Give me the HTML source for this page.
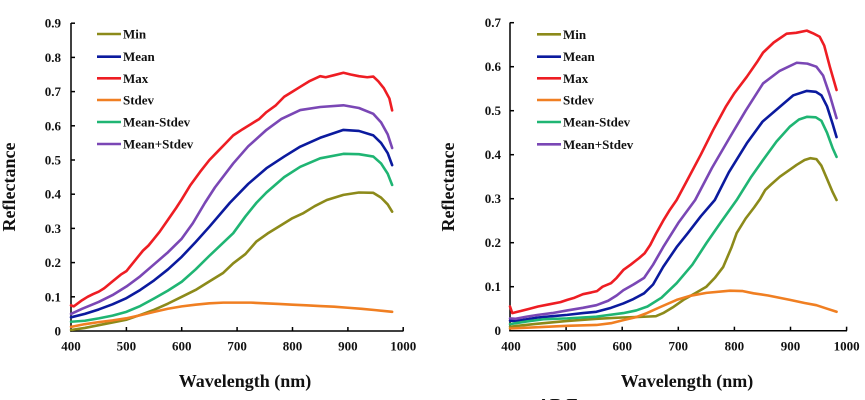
<!DOCTYPE html>
<html><head><meta charset="utf-8">
<style>
html,body{margin:0;padding:0;background:#fff;}
body{width:865px;height:400px;overflow:hidden;}
svg{display:block;}
text{font-family:"Liberation Serif","Times New Roman",serif;font-weight:bold;fill:#111;}
.t{font-size:13px;}
.lg{font-size:13px;}
.ax{font-size:18px;}
.s{fill:none;stroke-width:2.6;stroke-linejoin:round;stroke-linecap:round;}
</style></head>
<body>
<svg width="865" height="400" viewBox="0 0 865 400" xmlns="http://www.w3.org/2000/svg">
<!-- ===== LEFT CHART ===== -->
<g stroke="#000" stroke-width="1.5" fill="none">
  <line x1="71" y1="23" x2="71" y2="331.7"/>
  <line x1="70.3" y1="331" x2="403.5" y2="331"/>
  <!-- y ticks -->
  <line x1="71" y1="23.2" x2="75" y2="23.2"/>
  <line x1="71" y1="57.4" x2="75" y2="57.4"/>
  <line x1="71" y1="91.6" x2="75" y2="91.6"/>
  <line x1="71" y1="125.8" x2="75" y2="125.8"/>
  <line x1="71" y1="160" x2="75" y2="160"/>
  <line x1="71" y1="194.2" x2="75" y2="194.2"/>
  <line x1="71" y1="228.4" x2="75" y2="228.4"/>
  <line x1="71" y1="262.6" x2="75" y2="262.6"/>
  <line x1="71" y1="296.8" x2="75" y2="296.8"/>
  <!-- x ticks -->
  <line x1="126.4" y1="331" x2="126.4" y2="327"/>
  <line x1="181.7" y1="331" x2="181.7" y2="327"/>
  <line x1="237.1" y1="331" x2="237.1" y2="327"/>
  <line x1="292.5" y1="331" x2="292.5" y2="327"/>
  <line x1="347.9" y1="331" x2="347.9" y2="327"/>
  <line x1="403.2" y1="331" x2="403.2" y2="327"/>
</g>
<g class="t" text-anchor="end">
  <text x="61" y="27.7">0.9</text>
  <text x="61" y="61.9">0.8</text>
  <text x="61" y="96.1">0.7</text>
  <text x="61" y="130.3">0.6</text>
  <text x="61" y="164.5">0.5</text>
  <text x="61" y="198.7">0.4</text>
  <text x="61" y="232.9">0.3</text>
  <text x="61" y="267.1">0.2</text>
  <text x="61" y="301.3">0.1</text>
  <text x="61" y="335.5">0</text>
</g>
<g class="t" text-anchor="middle">
  <text x="71" y="350.5">400</text>
  <text x="126.4" y="350.5">500</text>
  <text x="181.7" y="350.5">600</text>
  <text x="237.1" y="350.5">700</text>
  <text x="292.5" y="350.5">800</text>
  <text x="347.9" y="350.5">900</text>
  <text x="403.2" y="350.5">1000</text>
</g>
<text class="ax" x="245" y="387" text-anchor="middle">Wavelength (nm)</text>
<text class="ax" transform="translate(15,187) rotate(-90)" text-anchor="middle">Reflectance</text>

<g transform="translate(-150.48,331) scale(0.5537,-342)">
  <polyline class="s" vector-effect="non-scaling-stroke" stroke="#8c8a1a" points="400,0.003 425,0.009 450,0.017 475,0.025 500,0.033 525,0.047 550,0.062 575,0.08 600,0.1 625,0.12 650,0.145 675,0.17 693,0.198 715,0.225 735,0.262 755,0.285 780,0.31 800,0.33 820,0.345 840,0.365 862,0.383 892,0.398 920,0.405 946,0.404 960,0.39 972,0.37 980,0.349"/>
  <polyline class="s" vector-effect="non-scaling-stroke" stroke="#0b1a9e" points="400,0.04 425,0.05 450,0.063 475,0.078 500,0.096 525,0.12 550,0.148 575,0.18 600,0.217 625,0.26 650,0.305 687,0.375 720,0.43 753,0.476 785,0.51 814,0.539 850,0.565 892,0.588 920,0.585 946,0.572 960,0.55 972,0.52 980,0.485"/>
  <polyline class="s" vector-effect="non-scaling-stroke" stroke="#ee1d23" points="400,0.075 405,0.072 410,0.078 420,0.09 430,0.1 440,0.108 450,0.115 460,0.125 475,0.145 490,0.165 500,0.175 510,0.195 520,0.215 530,0.235 540,0.25 550,0.27 560,0.29 575,0.325 590,0.36 600,0.385 615,0.425 633,0.465 650,0.5 665,0.525 680,0.55 693,0.572 710,0.59 725,0.605 740,0.62 753,0.64 770,0.66 785,0.685 800,0.7 814,0.714 830,0.73 850,0.745 860,0.742 875,0.748 892,0.755 905,0.75 920,0.745 935,0.742 946,0.744 955,0.73 965,0.71 975,0.68 980,0.645"/>
  <polyline class="s" vector-effect="non-scaling-stroke" stroke="#f07f22" points="400,0.012 425,0.02 450,0.026 475,0.031 500,0.037 525,0.046 550,0.056 575,0.065 600,0.072 625,0.077 650,0.081 675,0.083 700,0.083 725,0.083 750,0.081 775,0.079 800,0.077 825,0.075 850,0.073 875,0.071 900,0.068 925,0.065 950,0.061 980,0.056"/>
  <polyline class="s" vector-effect="non-scaling-stroke" stroke="#1fb573" points="400,0.027 425,0.03 450,0.037 475,0.045 500,0.056 525,0.073 550,0.095 575,0.118 600,0.144 625,0.18 650,0.22 693,0.286 715,0.335 735,0.375 753,0.405 785,0.45 814,0.48 850,0.505 892,0.518 920,0.517 946,0.51 960,0.49 972,0.46 980,0.427"/>
  <polyline class="s" vector-effect="non-scaling-stroke" stroke="#7a47b5" points="400,0.05 420,0.065 450,0.085 475,0.105 500,0.13 525,0.16 550,0.195 575,0.23 600,0.27 620,0.315 642,0.375 660,0.42 693,0.49 720,0.54 753,0.588 780,0.62 814,0.646 850,0.655 892,0.66 920,0.652 946,0.635 960,0.61 972,0.575 980,0.535"/>
</g>

<!-- left legend -->
<g stroke-width="2.6">
  <line x1="97" y1="34" x2="121" y2="34" stroke="#8c8a1a"/>
  <line x1="97" y1="56.7" x2="121" y2="56.7" stroke="#0b1a9e"/>
  <line x1="97" y1="78.3" x2="121" y2="78.3" stroke="#ee1d23"/>
  <line x1="97" y1="100" x2="121" y2="100" stroke="#f07f22"/>
  <line x1="97" y1="122" x2="121" y2="122" stroke="#1fb573"/>
  <line x1="97" y1="144" x2="121" y2="144" stroke="#7a47b5"/>
</g>
<g class="lg">
  <text x="123" y="38.5">Min</text>
  <text x="123" y="61.2">Mean</text>
  <text x="123" y="82.8">Max</text>
  <text x="123" y="104.5">Stdev</text>
  <text x="123" y="126.5">Mean-Stdev</text>
  <text x="123" y="148.5">Mean+Stdev</text>
</g>

<!-- ===== RIGHT CHART ===== -->
<g stroke="#000" stroke-width="1.5" fill="none">
  <line x1="510" y1="22.5" x2="510" y2="331.4"/>
  <line x1="509.3" y1="330.7" x2="847" y2="330.7"/>
  <line x1="510" y1="22.7" x2="514" y2="22.7"/>
  <line x1="510" y1="66.7" x2="514" y2="66.7"/>
  <line x1="510" y1="110.7" x2="514" y2="110.7"/>
  <line x1="510" y1="154.7" x2="514" y2="154.7"/>
  <line x1="510" y1="198.7" x2="514" y2="198.7"/>
  <line x1="510" y1="242.7" x2="514" y2="242.7"/>
  <line x1="510" y1="286.7" x2="514" y2="286.7"/>
  <line x1="566.1" y1="330.7" x2="566.1" y2="326.7"/>
  <line x1="622.2" y1="330.7" x2="622.2" y2="326.7"/>
  <line x1="678.3" y1="330.7" x2="678.3" y2="326.7"/>
  <line x1="734.4" y1="330.7" x2="734.4" y2="326.7"/>
  <line x1="790.5" y1="330.7" x2="790.5" y2="326.7"/>
  <line x1="846.6" y1="330.7" x2="846.6" y2="326.7"/>
</g>
<g class="t" text-anchor="end">
  <text x="501" y="27.2">0.7</text>
  <text x="501" y="71.2">0.6</text>
  <text x="501" y="115.2">0.5</text>
  <text x="501" y="159.2">0.4</text>
  <text x="501" y="203.2">0.3</text>
  <text x="501" y="247.2">0.2</text>
  <text x="501" y="291.2">0.1</text>
  <text x="501" y="335.2">0</text>
</g>
<g class="t" text-anchor="middle">
  <text x="511" y="350.5">400</text>
  <text x="566.6" y="350.5">500</text>
  <text x="622.2" y="350.5">600</text>
  <text x="678.3" y="350.5">700</text>
  <text x="734.4" y="350.5">800</text>
  <text x="790.5" y="350.5">900</text>
  <text x="846.6" y="350.5">1000</text>
</g>
<text class="ax" x="687" y="387" text-anchor="middle">Wavelength (nm)</text>
<text class="ax" transform="translate(454,187) rotate(-90)" text-anchor="middle">Reflectance</text>
<text class="ax" x="537" y="411">AB Eu</text>

<g transform="translate(285.56,330.7) scale(0.5611,-440)">
  <polyline class="s" vector-effect="non-scaling-stroke" stroke="#8c8a1a" points="400,0.009 420,0.012 450,0.016 500,0.022 554,0.027 600,0.03 644,0.032 660,0.033 673,0.04 690,0.053 709,0.07 730,0.085 750,0.1 765,0.12 780,0.145 795,0.19 804,0.222 820,0.255 835,0.28 846,0.3 855,0.32 865,0.332 881,0.35 900,0.367 911,0.377 925,0.388 935,0.392 946,0.39 955,0.375 965,0.345 975,0.315 982,0.297"/>
  <polyline class="s" vector-effect="non-scaling-stroke" stroke="#0b1a9e" points="400,0.023 410,0.022 430,0.026 450,0.03 475,0.033 502,0.036 530,0.04 554,0.043 580,0.052 602,0.062 620,0.072 639,0.085 655,0.105 673,0.145 697,0.19 717,0.222 740,0.26 765,0.297 790,0.36 822,0.426 850,0.475 881,0.509 905,0.535 929,0.545 945,0.543 955,0.535 965,0.51 975,0.47 982,0.44"/>
  <polyline class="s" vector-effect="non-scaling-stroke" stroke="#ee1d23" points="400,0.055 404,0.04 410,0.042 420,0.045 435,0.05 450,0.055 470,0.06 490,0.065 502,0.07 515,0.075 530,0.083 545,0.087 555,0.09 565,0.1 580,0.108 590,0.12 602,0.138 615,0.15 630,0.165 640,0.176 650,0.195 660,0.22 673,0.25 685,0.275 697,0.297 715,0.34 740,0.4 762,0.456 785,0.51 800,0.54 822,0.577 840,0.61 851,0.632 870,0.655 893,0.675 910,0.677 929,0.682 940,0.676 952,0.668 960,0.648 970,0.6 982,0.547"/>
  <polyline class="s" vector-effect="non-scaling-stroke" stroke="#f07f22" points="400,0.005 450,0.008 502,0.011 554,0.013 580,0.017 602,0.024 625,0.031 644,0.04 670,0.055 697,0.07 720,0.079 750,0.086 792,0.091 815,0.09 834,0.085 860,0.08 899,0.07 925,0.063 946,0.058 965,0.05 982,0.043"/>
  <polyline class="s" vector-effect="non-scaling-stroke" stroke="#1fb573" points="400,0.015 410,0.017 430,0.021 460,0.026 502,0.028 554,0.032 602,0.04 625,0.046 645,0.055 670,0.075 697,0.108 725,0.15 750,0.199 775,0.245 804,0.297 830,0.35 851,0.388 875,0.43 899,0.464 915,0.48 929,0.486 945,0.485 955,0.477 965,0.45 975,0.415 982,0.395"/>
  <polyline class="s" vector-effect="non-scaling-stroke" stroke="#7a47b5" points="400,0.028 410,0.027 430,0.032 450,0.036 475,0.04 502,0.046 530,0.052 554,0.058 575,0.068 590,0.08 602,0.092 620,0.105 639,0.12 655,0.15 673,0.19 700,0.245 730,0.297 760,0.37 792,0.44 820,0.5 851,0.562 880,0.59 911,0.609 930,0.607 946,0.6 958,0.58 970,0.535 982,0.483"/>
</g>

<!-- right legend -->
<g stroke-width="2.6">
  <line x1="537" y1="34.3" x2="561" y2="34.3" stroke="#8c8a1a"/>
  <line x1="537" y1="56.7" x2="561" y2="56.7" stroke="#0b1a9e"/>
  <line x1="537" y1="78.3" x2="561" y2="78.3" stroke="#ee1d23"/>
  <line x1="537" y1="100" x2="561" y2="100" stroke="#f07f22"/>
  <line x1="537" y1="122" x2="561" y2="122" stroke="#1fb573"/>
  <line x1="537" y1="144.3" x2="561" y2="144.3" stroke="#7a47b5"/>
</g>
<g class="lg">
  <text x="563" y="38.8">Min</text>
  <text x="563" y="61.2">Mean</text>
  <text x="563" y="82.8">Max</text>
  <text x="563" y="104.5">Stdev</text>
  <text x="563" y="126.5">Mean-Stdev</text>
  <text x="563" y="148.8">Mean+Stdev</text>
</g>
</svg>
</body></html>
